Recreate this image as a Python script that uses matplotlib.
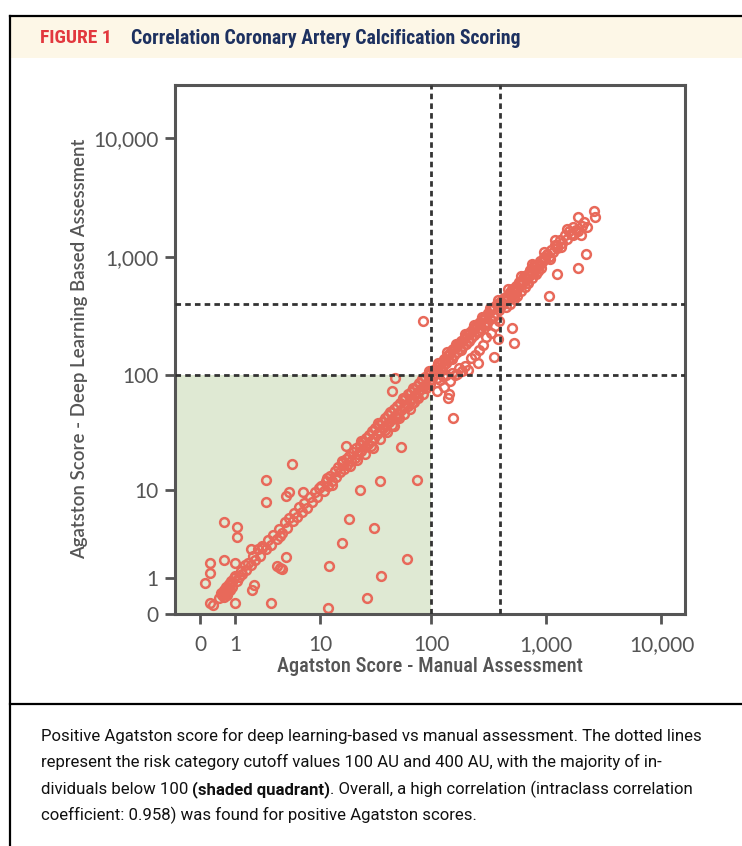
import numpy as np
import matplotlib
matplotlib.use("Agg")
import matplotlib.pyplot as plt
from matplotlib import font_manager
from matplotlib.lines import Line2D
from matplotlib.patches import Rectangle

# --- data: (manual, deep learning) Agatston scores ---
# near the identity line, below 1
m_low = [0.30, 0.45, 0.50, 0.55, 0.60, 0.62, 0.65, 0.70, 0.72, 0.75,
         0.78, 0.80, 0.82, 0.85, 0.88, 0.90, 0.95, 0.70, 0.60, 0.66,
         1.00, 1.10]
d_low = [0.20, 0.35, 0.50, 0.45, 0.60, 0.40, 0.55, 0.70, 0.50, 0.65,
         0.80, 0.60, 0.75, 0.90, 0.70, 0.85, 1.00, 0.45, 0.50, 0.68,
         1.10, 0.90]
# 1 - 10
m_one = [1.15, 1.25, 1.3, 1.45, 1.5, 1.6, 1.75, 1.85, 2.0, 2.2,
         2.3, 2.45, 2.7, 2.9, 3.1, 3.3, 3.6, 3.8, 4.1, 4.4,
         4.7, 4.9, 5.4, 5.5, 5.9, 6.2, 6.7, 7.0, 7.4, 7.9,
         8.3, 8.8, 9.2, 9.7, 1.75, 2.4, 3.9]
d_one = [1.05, 1.3, 1.15, 1.6, 1.35, 1.7, 1.6, 2.1, 1.85, 2.5,
         2.1, 2.7, 2.5, 3.2, 2.8, 3.6, 3.3, 4.2, 3.8, 4.9,
         4.3, 5.4, 5.0, 6.1, 5.5, 6.9, 6.2, 7.6, 6.8, 8.6,
         7.7, 9.6, 8.6, 10.5, 2.5, 2.6, 3.5]
# 10 - 100
m_ten = [10.2, 10.8, 11.3, 11.9, 12.4, 12.8, 13.6, 14.1, 14.8, 15.3,
         15.9, 16.6, 17.2, 17.9, 18.5, 19.3, 20.1, 20.8, 21.5, 22.4,
         23.2, 23.9, 24.8, 25.6, 26.3, 27.4, 28.2, 29.1, 30.0, 31.2,
         32.1, 33.3, 34.2, 35.5, 36.4, 37.8, 38.9, 40.1, 41.5, 42.6,
         44.0, 45.3, 46.8, 48.0, 49.6, 51.0, 52.7, 54.1, 55.9, 57.2,
         59.0, 60.8, 62.5, 64.4, 66.0, 68.1, 70.2, 72.0, 74.3, 76.5,
         78.6, 81.0, 83.2, 85.7, 88.0, 90.5, 93.1, 95.6, 98.0, 30.5,
         35.0, 41.0, 47.0, 52.0, 58.0, 65.0, 71.0, 77.0, 84.0, 92.0,
         97.0, 26.0, 22.0, 45.0, 68.0]
d_ten = [10.8, 9.9, 12.2, 11.0, 13.4, 12.0, 14.9, 13.2, 16.1, 14.5,
         17.5, 15.6, 18.9, 16.8, 20.3, 18.4, 22.0, 19.6, 23.8, 21.0,
         25.5, 22.6, 27.3, 24.1, 29.0, 25.8, 31.0, 27.5, 33.2, 29.4,
         35.6, 31.4, 37.7, 33.5, 40.2, 35.6, 43.0, 37.9, 45.8, 40.3,
         48.4, 42.8, 51.5, 45.4, 54.8, 48.1, 58.0, 51.0, 61.5, 54.2,
         64.8, 57.5, 68.9, 60.9, 72.6, 64.2, 77.0, 68.0, 81.6, 72.1,
         86.1, 76.4, 91.2, 80.8, 96.5, 85.2, 101.0, 90.0, 104.0, 24.0,
         28.5, 33.0, 37.0, 43.0, 47.0, 52.0, 59.0, 64.0, 70.0, 80.0,
         84.0, 21.0, 18.5, 38.0, 58.0]
# 100 - 400
m_hun = [100, 103, 106, 108, 111, 114, 117, 120, 123, 127,
         130, 134, 137, 141, 145, 149, 153, 158, 162, 167,
         172, 177, 182, 188, 193, 199, 205, 211, 218, 224,
         231, 238, 245, 253, 261, 269, 277, 286, 295, 304,
         313, 323, 333, 343, 354, 365, 376, 388, 396, 399,
         105, 118, 131, 143, 155, 168, 181, 197, 212, 230,
         248, 266, 290, 315, 340, 372,
         112, 120, 127, 135, 146, 150, 160, 167, 175, 185,
         195, 209, 220, 240, 260, 280, 300, 330, 360, 390,
         130, 142]
d_hun = [106, 99, 112, 104, 118, 109, 125, 114, 131, 121,
         138, 128, 145, 134, 154, 141, 163, 150, 172, 158,
         183, 166, 194, 176, 205, 186, 218, 196, 231, 208,
         246, 221, 261, 235, 278, 250, 295, 265, 314, 282,
         333, 299, 354, 318, 376, 338, 400, 360, 418, 378,
         112, 125, 139, 152, 166, 178, 193, 210, 226, 246,
         265, 284, 306, 334, 361, 394,
         95, 92, 98, 100, 90, 105, 100, 102, 115, 110,
         120, 111, 140, 150, 165, 180, 210, 230, 260, 290,
         80, 70]
# 400 - 1000
m_400 = [405, 415, 425, 440, 455, 470, 485, 500, 515, 530,
         545, 560, 580, 595, 615, 630, 650, 670, 690, 710,
         730, 755, 780, 800, 830, 860, 890, 920, 950, 980,
         450, 480, 520, 560, 600, 650, 700, 760, 820, 900,
         430, 505, 575, 640, 720, 790]
d_400 = [420, 400, 445, 425, 470, 450, 505, 480, 535, 510,
         570, 540, 600, 575, 640, 610, 675, 650, 720, 690,
         760, 735, 815, 780, 860, 835, 930, 900, 990, 960,
         380, 400, 440, 470, 520, 560, 600, 660, 720, 800,
         455, 535, 610, 690, 770, 850]
# above 1000
m_thou = [1010, 1050, 1100, 1150, 1200, 1250, 1320, 1380, 1450, 1500,
          1580, 1650, 1720, 1800, 1900, 2000, 2110, 2250, 2600, 2640, 1230]
d_thou = [1050, 1000, 1150, 1090, 1260, 1190, 1380, 1310, 1520, 1420,
          1650, 1560, 1800, 1700, 1650, 1540, 1960, 1800, 2450, 2160, 1250]
# extra points thickening the band around the line
m_band = [11.5, 13.0, 16.0, 19.0, 24.0, 29.0, 34.0, 39.0, 43.0, 50.0,
          56.0, 62.0, 69.0, 75.0, 82.0, 89.0, 96.0, 104, 115, 125,
          138, 152, 165, 180, 196, 215, 235, 255, 275, 300,
          325, 350, 380, 420, 470, 530, 600, 680, 760, 850,
          950, 1080, 1200, 1350, 1500, 1700, 1900, 2050]
d_band = [13.0, 11.2, 18.2, 16.5, 27.5, 25.0, 39.0, 34.0, 49.0, 44.0,
          64.0, 55.0, 79.0, 66.0, 94.0, 79.0, 110, 98, 128, 112,
          158, 138, 186, 164, 224, 196, 266, 236, 312, 272,
          368, 318, 432, 400, 540, 470, 690, 600, 870, 760,
          1090, 960, 1380, 1210, 1720, 1520, 2150, 1820]
# scattered points away from the line
m_off = [0.6, 1.1, 1.1, 2.7, 2.7, 5.2, 4.5, 4.9, 6.8, 0.21,
         0.21, 0.11, 0.21, 0.6, 1.0, 1.0, 3.1, 1.9, 1.8, 3.6,
         3.9, 4.1, 4.5, 11.9, 12.1, 15.9, 18.6, 23.3, 26.7, 31.3,
         35.2, 35.9, 61, 75, 17.2, 53.7, 84, 48, 44.7, 139,
         156, 113, 257, 351, 507, 525, 383, 1063, 1875, 2200,
         1232]
d_off = [4.9, 4.4, 3.4, 12.4, 7.7, 17.2, 8.8, 9.5, 9.5, 1.67,
         1.2, 0.83, 0.24, 1.83, 1.67, 0.24, 0.24, 0.75, 0.59, 1.53,
         1.45, 1.4, 2.03, 0.13, 1.55, 2.98, 5.3, 9.96, 0.36, 4.25,
         12.2, 1.07, 1.92, 12.3, 25, 24.2, 290, 95, 73.8, 64,
         43, 74, 128, 142, 250, 190, 202, 472, 812, 1058,
         715]

cutoffs = [100, 400]
tick_vals = [0, 1, 10, 100, 1000, 10000]
tick_labels = ['0', '1', '10', '100', '1,000', '10,000']

manual = np.array(m_low + m_one + m_ten + m_hun + m_400 + m_thou + m_band + m_off)
deep = np.array(d_low + d_one + d_ten + d_hun + d_400 + d_thou + d_band + d_off)


def pick(cands):
    names = {f.name for f in font_manager.fontManager.ttflist}
    for c in cands:
        if c in names:
            return c
    return 'DejaVu Sans'


cond_font = pick(['Liberation Sans Narrow', 'Roboto Condensed', 'Roboto'])
tick_font = pick(['Lato', 'Open Sans'])
cap_font = pick(['Roboto', 'Liberation Sans'])

W, H = 742, 846
fig = plt.figure(figsize=(W / 100, H / 100), dpi=100)


def fx(px):
    return px / W


def fy(py):
    return 1 - py / H


# frame of the journal figure
fig.add_artist(Rectangle((fx(10), fy(58)), 1 - fx(10), fy(17) - fy(58),
                         transform=fig.transFigure, color='#fdf7e7', lw=0, zorder=0))
for xs, ys in [([fx(9.5), fx(9.5)], [fy(16.5), 0]),
               ([fx(9.5), 1], [fy(16.5), fy(16.5)]),
               ([fx(9.5), 1], [fy(704), fy(704)])]:
    fig.add_artist(Line2D(xs, ys, transform=fig.transFigure, color='black', lw=1.6))

fig.text(fx(40), fy(38), 'FIGURE 1', color='#e2383e', fontsize=14,
         fontweight='bold', family=cond_font, va='center')
fig.text(fx(131), fy(38), 'Correlation Coronary Artery Calcification Scoring',
         color='#1d3160', fontsize=14.2, fontweight='bold', family=cond_font, va='center')

# scatter axes with log(1 + x) scales
ax = fig.add_axes([fx(175), fy(614), (685 - 175) / W, (614 - 85) / H])


def fwd(v):
    return np.log10(np.maximum(1 + np.asarray(v, dtype=float), 1e-9))


def inv(v):
    return 10 ** np.asarray(v, dtype=float) - 1


ax.set_xscale('function', functions=(fwd, inv))
ax.set_yscale('function', functions=(fwd, inv))
xmin = inv(-0.219)
ax.set_xlim(xmin, inv(4.204))
ax.set_ylim(0, inv(4.445))

ax.add_patch(Rectangle((xmin, 0), 100 - xmin, 100, color='#dfe9d3', lw=0, zorder=0))

ax.plot(manual, deep, 'o', ms=6.3, mfc='none', mec='#e8695a', mew=1.8, zorder=2)

for c in cutoffs:
    ax.axvline(c, color='#333333', lw=2.0, ls=(0, (2, 1.5)), zorder=3)
    ax.axhline(c, color='#333333', lw=2.0, ls=(0, (2, 1.5)), zorder=3)

ax.set_xticks(tick_vals)
ax.set_xticklabels(tick_labels)
ax.set_yticks(tick_vals)
ax.set_yticklabels(tick_labels)
ax.minorticks_off()
for s in ax.spines.values():
    s.set_color('#555555')
    s.set_linewidth(2.2)
ax.tick_params(length=7, width=2, color='#555555', labelcolor='#555555',
               labelsize=15, pad=5)
for lab in ax.get_xticklabels() + ax.get_yticklabels():
    lab.set_family(tick_font)
ax.tick_params(axis='x', pad=8)

fig.text(fx(430), fy(667), 'Agatston Score - Manual Assessment', ha='center', va='center',
         fontsize=14.7, fontweight='medium', color='#555555', family=cond_font)
fig.text(fx(80), fy(349), 'Agatston Score - Deep Learning Based Assessment', ha='center',
         va='center', rotation=90, fontsize=13.4, fontweight='semibold', color='#555555',
         family=tick_font)

# caption
caption = [
    [("Positive Agatston score for deep learning-based vs manual assessment. The dotted lines", 'normal')],
    [("represent the risk category cutoff values 100 AU and 400 AU, with the majority of in-", 'normal')],
    [("dividuals below 100 ", 'normal'), ("(shaded quadrant)", 'bold'),
     (". Overall, a high correlation (intraclass correlation", 'normal')],
    [("coefficient: 0.958) was found for positive Agatston scores.", 'normal')],
]
renderer = fig.canvas.get_renderer()
for i, parts in enumerate(caption):
    x = fx(41)
    for txt, wt in parts:
        t = fig.text(x, fy(741 + i * 26.5), txt, fontsize=12.1, fontweight=wt,
                     color='#111111', family=cap_font, va='baseline')
        bb = t.get_window_extent(renderer)
        x = bb.x1 / W

fig.savefig('out.png', dpi=100)
